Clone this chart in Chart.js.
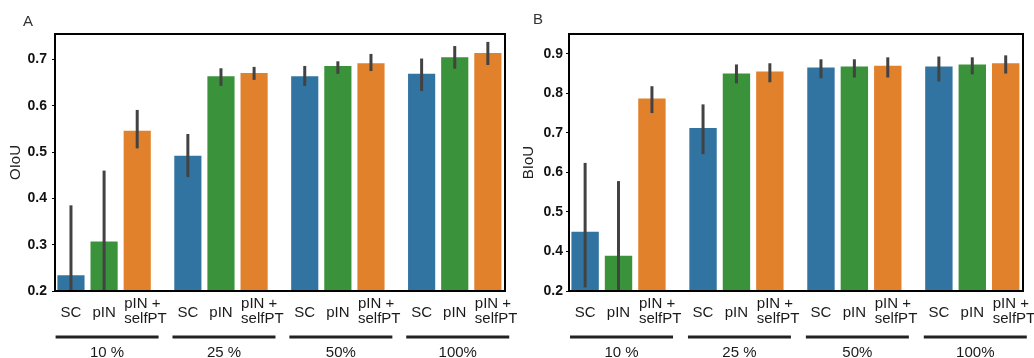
<!DOCTYPE html>
<html>
<head>
<meta charset="utf-8">
<script src="https://cdn.jsdelivr.net/npm/chart.js@4.4.1/dist/chart.umd.min.js"></script>
<style>
html, body { margin: 0; padding: 0; background: #fff; }
#wrap { position: relative; width: 1034px; height: 358px; overflow: hidden; }
canvas { position: absolute; top: 0; }
</style>
</head>
<body>
<div id="wrap">
  <canvas id="chartA" width="517" height="358" style="left:0"></canvas>
  <canvas id="chartB" width="517" height="358" style="left:517px"></canvas>
</div>
<script>
// categories
const groups = ['10 %', '25 %', '50%', '100%'];
const methods = ['SC', 'pIN', 'pIN + selfPT'];
const methodLabels = [['SC'], ['pIN'], ['pIN +', 'selfPT']];
const colors = ['#3274a1', '#3a923a', '#e1812c'];

// panel A - OIoU
const oiouSC   = [0.234, 0.492, 0.664, 0.669];
const oiouPIN  = [0.307, 0.664, 0.686, 0.705];
const oiouSelf = [0.546, 0.671, 0.692, 0.714];
const oiouSCLow   = [0.10, 0.446, 0.643, 0.632];
const oiouSCHigh  = [0.385, 0.539, 0.686, 0.702];
const oiouPINLow  = [0.15, 0.643, 0.669, 0.680];
const oiouPINHigh = [0.460, 0.681, 0.696, 0.729];
const oiouSelfLow  = [0.508, 0.656, 0.675, 0.688];
const oiouSelfHigh = [0.591, 0.684, 0.712, 0.738];
const oiouTicks = [0.2, 0.3, 0.4, 0.5, 0.6, 0.7];
const oiouTickLabels = ['0.2', '0.3', '0.4', '0.5', '0.6', '0.7'];

// panel B - BIoU
const biouSC   = [0.450, 0.712, 0.865, 0.868];
const biouPIN  = [0.389, 0.850, 0.868, 0.873];
const biouSelf = [0.787, 0.855, 0.870, 0.876];
const biouSCLow   = [0.309, 0.646, 0.838, 0.830];
const biouSCHigh  = [0.624, 0.772, 0.886, 0.893];
const biouPINLow  = [0.20, 0.825, 0.840, 0.848];
const biouPINHigh = [0.578, 0.873, 0.886, 0.891];
const biouSelfLow  = [0.750, 0.828, 0.840, 0.850];
const biouSelfHigh = [0.818, 0.876, 0.891, 0.896];
const biouTicks = [0.3, 0.4, 0.5, 0.6, 0.7, 0.8, 0.9];
const biouTickLabels = ['0.2', '0.4', '0.5', '0.6', '0.7', '0.8', '0.9'];

Chart.defaults.font.family = '"Liberation Sans", Arial, sans-serif';
Chart.defaults.color = '#1a1a1a';

const FONT = '"Liberation Sans", Arial, sans-serif';

// error bars through the y scale, clipped to the plot box
const errorBars = {
  id: 'errorBars',
  afterDatasetsDraw(chart) {
    const { ctx, chartArea, scales: { y } } = chart;
    ctx.save();
    ctx.beginPath();
    ctx.rect(chartArea.left, chartArea.top, chartArea.right - chartArea.left, chartArea.bottom - chartArea.top);
    ctx.clip();
    ctx.strokeStyle = '#424242';
    ctx.lineWidth = 3;
    chart.data.datasets.forEach((ds, i) => {
      chart.getDatasetMeta(i).data.forEach((bar, j) => {
        ctx.beginPath();
        ctx.moveTo(bar.x, y.getPixelForValue(ds.errLow[j]));
        ctx.lineTo(bar.x, y.getPixelForValue(ds.errHigh[j]));
        ctx.stroke();
      });
    });
    ctx.restore();
  }
};

// box, bar labels, group underline + labels, panel letter
const decor = {
  id: 'decor',
  afterDraw(chart, args, opts) {
    const { ctx, chartArea } = chart;
    const b = chartArea.bottom;
    ctx.save();
    ctx.strokeStyle = '#000';
    ctx.lineWidth = 2;
    ctx.strokeRect(chartArea.left, chartArea.top, chartArea.right - chartArea.left, chartArea.bottom - chartArea.top);

    ctx.fillStyle = '#1a1a1a';
    ctx.font = '15px ' + FONT;
    chart.data.datasets.forEach((ds, i) => {
      const lines = methodLabels[i];
      chart.getDatasetMeta(i).data.forEach(bar => {
        if (lines.length === 1) {
          ctx.textAlign = 'center';
          ctx.textBaseline = 'middle';
          ctx.fillText(lines[0], bar.x, b + 21.5);
        } else {
          ctx.textAlign = 'left';
          ctx.textBaseline = 'middle';
          ctx.fillText(lines[0], bar.x - 13, b + 12.5);
          ctx.fillText(lines[1], bar.x - 13, b + 28);
        }
      });
    });

    const mid = chart.getDatasetMeta(1).data;
    groups.forEach((g, j) => {
      const cx = mid[j].x + 3;
      ctx.strokeStyle = '#222';
      ctx.lineWidth = 3;
      ctx.beginPath();
      ctx.moveTo(cx - 51.5, b + 46);
      ctx.lineTo(cx + 51.5, b + 46);
      ctx.stroke();
      ctx.textAlign = 'center';
      ctx.textBaseline = 'alphabetic';
      ctx.fillText(g, cx, b + 66);
    });

    ctx.fillStyle = '#333';
    ctx.font = '15px ' + FONT;
    ctx.textAlign = 'center';
    ctx.textBaseline = 'alphabetic';
    ctx.fillText(opts.letter, opts.letterX, opts.letterY);
    ctx.restore();
  }
};

function makePanel(id, cfg) {
  const series = [cfg.sc, cfg.pin, cfg.self];
  const lows = [cfg.scLow, cfg.pinLow, cfg.selfLow];
  const highs = [cfg.scHigh, cfg.pinHigh, cfg.selfHigh];
  return new Chart(document.getElementById(id), {
    type: 'bar',
    data: {
      datasets: methods.map((m, i) => ({
        label: m,
        data: series[i].map((v, j) => ({ x: j, y: v })),
        errLow: lows[i],
        errHigh: highs[i],
        backgroundColor: colors[i],
        borderWidth: 0,
        categoryPercentage: 0.85,
        barPercentage: 0.82,
        clip: 0
      }))
    },
    options: {
      responsive: false,
      animation: false,
      layout: { padding: { left: 0, top: 34, right: cfg.padRight, bottom: 67 } },
      scales: {
        x: {
          type: 'linear',
          min: -0.42,
          max: 3.43,
          offset: false,
          grace: 0,
          display: false,
          afterBuildTicks: s => { s.ticks = groups.map((g, j) => ({ value: j })); }
        },
        y: {
          min: cfg.yMin,
          max: cfg.yMax,
          afterFit: s => { s.width = cfg.axisWidth; },
          afterBuildTicks: s => { s.ticks = cfg.ticks.map(v => ({ value: v })); },
          border: { display: false },
          grid: { display: true, drawOnChartArea: false, drawTicks: true, tickLength: 3, color: '#000' },
          ticks: {
            padding: cfg.tickPad,
            color: '#111',
            font: { size: 14, weight: 'bold' },
            callback: v => cfg.tickLabels[cfg.ticks.findIndex(t => Math.abs(t - v) < 1e-6)]
          },
          title: {
            display: true,
            text: cfg.title,
            color: '#222',
            font: { size: 15 },
            padding: { top: cfg.titlePad, bottom: 0 }
          }
        }
      },
      plugins: {
        legend: { display: false },
        tooltip: { enabled: false },
        decor: { letter: cfg.letter, letterX: cfg.letterX, letterY: cfg.letterY }
      }
    },
    plugins: [errorBars, decor]
  });
}

makePanel('chartA', {
  sc: oiouSC, pin: oiouPIN, self: oiouSelf,
  scLow: oiouSCLow, scHigh: oiouSCHigh,
  pinLow: oiouPINLow, pinHigh: oiouPINHigh,
  selfLow: oiouSelfLow, selfHigh: oiouSelfHigh,
  ticks: oiouTicks, tickLabels: oiouTickLabels,
  yMin: 0.2, yMax: 0.755,
  title: 'OIoU', titlePad: 7, tickPad: 5,
  axisWidth: 55, padRight: 12,
  letter: 'A', letterX: 28, letterY: 26
});

makePanel('chartB', {
  sc: biouSC, pin: biouPIN, self: biouSelf,
  scLow: biouSCLow, scHigh: biouSCHigh,
  pinLow: biouPINLow, pinHigh: biouPINHigh,
  selfLow: biouSelfLow, selfHigh: biouSelfHigh,
  ticks: biouTicks, tickLabels: biouTickLabels,
  yMin: 0.3, yMax: 0.95,
  title: 'BIoU', titlePad: 3, tickPad: 3,
  axisWidth: 52, padRight: 11,
  letter: 'B', letterX: 21, letterY: 24
});
</script>
</body>
</html>
